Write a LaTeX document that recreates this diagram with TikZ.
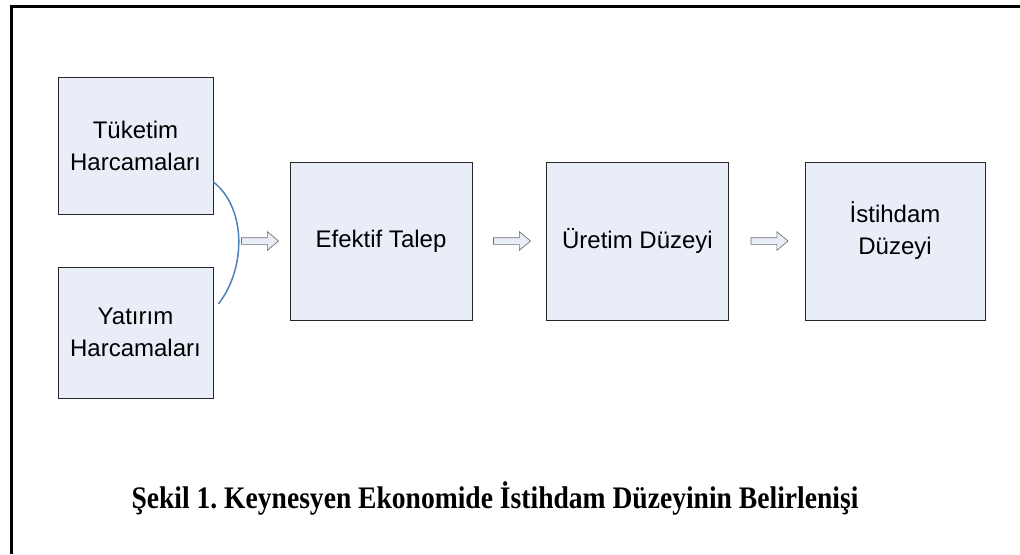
\documentclass[tikz,border=0pt]{standalone}
\usepackage{fontspec}
\setmainfont{Liberation Serif}
\setsansfont{Liberation Sans}
\newfontfamily\baslikfont[FakeStretch=0.88]{Liberation Serif}
\usetikzlibrary{shapes.arrows,calc}

\definecolor{boxfill}{RGB}{233,237,247}
\definecolor{arcblue}{RGB}{74,126,187}
\tikzset{every picture/.style={line width=0.75pt}}
\tikzset{
	kutu/.style={draw={rgb, 255:red, 40; green, 40; blue, 40}, fill=boxfill, line width=0.6pt, inner sep=0pt, align=center,
		font=\sffamily\fontsize{18}{24}\selectfont},
	ok/.style={single arrow, draw={rgb, 255:red, 110; green, 110; blue, 110}, fill=boxfill, line width=0.5pt,
		inner sep=2.25pt, minimum height=27.75pt, single arrow head extend=4.5pt, single arrow tip angle=80}
}

\begin{document}
\frenchspacing
\begin{tikzpicture}[x=0.75pt,y=0.75pt,yscale=-1]
			\useasboundingbox (0,0) rectangle (1020,554);
			% cerceve
			\draw [line width=2.25pt] (11,554) -- (11,6) -- (1020,6);
			% kutular
			\node (tuk) [kutu, minimum width=116.25pt, minimum height=102.75pt] at (135.5,145.5) {Tüketim\\Harcamaları};
			\node (yat) [kutu, minimum width=116.25pt, minimum height=98.25pt] at (135.5,332.5) {Yatırım\\Harcamaları};
			\node (efk) [kutu, minimum width=136.5pt, minimum height=118.5pt] at (381,241) {Efektif Talep};
			\node (ure) [kutu, minimum width=136pt, minimum height=118.5pt] at (637.5,241) {Üretim Düzeyi};
			\node (ist) [kutu, minimum width=135pt, minimum height=118.5pt] at (895,241) {İstihdam\\Düzeyi\\[-4pt]};
			% oklar
			\node (ok1) [ok] at (258,241) {};
			\node (ok2) [ok] at (510,241) {};
			\node (ok3) [ok] at (767.5,241) {};
			% yay
			\coordinate (yayA) at ($(tuk.east)+(0,36.5)$);
			\coordinate (yayB) at ($(yat.east)+(5,-28.5)$);
			\draw [color=arcblue, line width=1.1pt] (yayA) .. controls +(33,26) and +(28,-36) .. (yayB);
			% baslik
			\node (baslik) [anchor=base, font=\baslikfont\bfseries\fontsize{23.5}{28}\selectfont] at (495,508) {Şekil 1. Keynesyen Ekonomide İstihdam Düzeyinin Belirlenişi};
\end{tikzpicture}
\end{document}
